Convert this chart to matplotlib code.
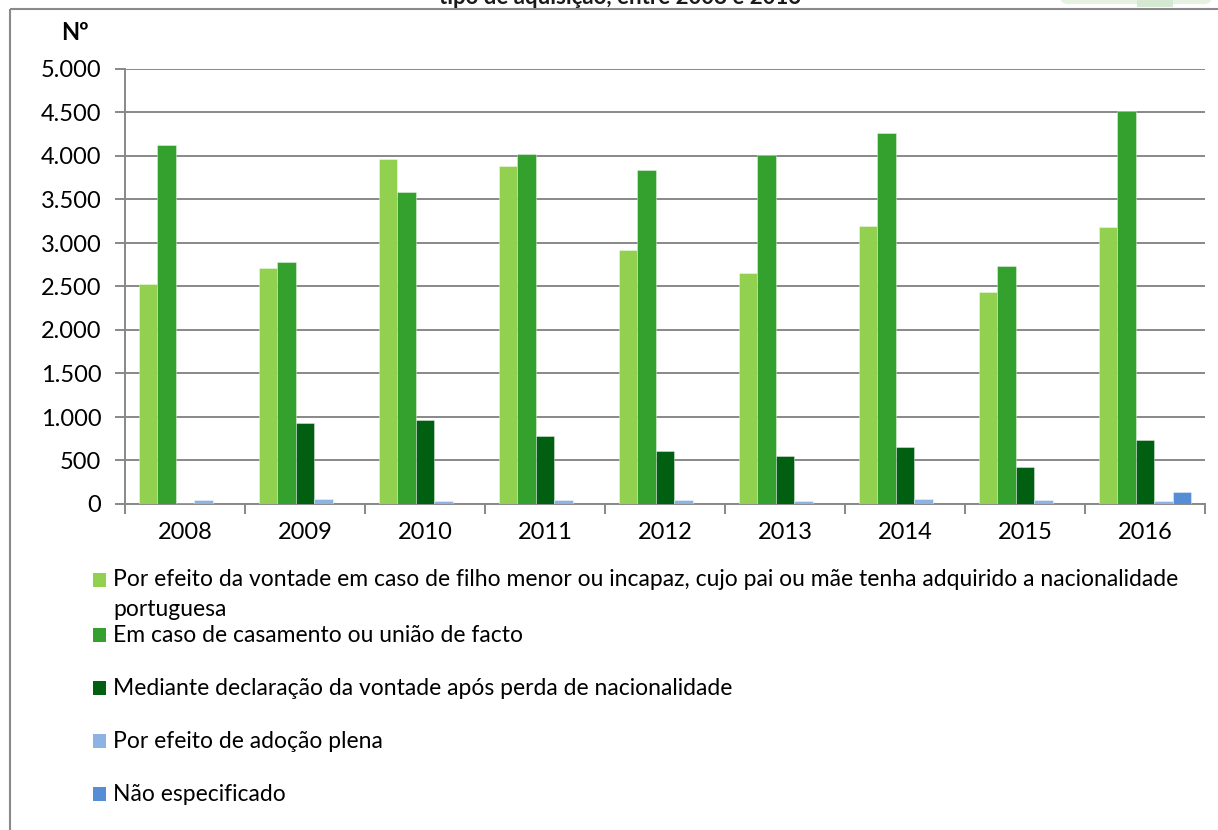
import matplotlib.pyplot as plt
import numpy as np
from matplotlib.patches import Rectangle, FancyBboxPatch

plt.rcParams['font.family'] = ['Lato', 'DejaVu Sans']

years = ["2008", "2009", "2010", "2011", "2012", "2013", "2014", "2015", "2016"]

vontade_filho = [2527, 2708, 3962, 3887, 2920, 2652, 3200, 2437, 3181]
casamento = [4123, 2785, 3585, 4025, 3837, 4013, 4262, 2740, 4519]
perda_nacionalidade = [8, 927, 969, 780, 610, 552, 652, 421, 741]
adocao_plena = [42, 54, 31, 42, 42, 39, 54, 42, 39]
nao_especificado = [0, 0, 0, 0, 0, 0, 0, 0, 135]

series = [vontade_filho, casamento, perda_nacionalidade, adocao_plena, nao_especificado]
labels = [
    "Por efeito da vontade em caso de filho menor ou incapaz, cujo pai ou mãe tenha adquirido a nacionalidade\nportuguesa",
    "Em caso de casamento ou união de facto",
    "Mediante declaração da vontade após perda de nacionalidade",
    "Por efeito de adoção plena",
    "Não especificado",
]
colors = ["#92d050", "#34a02d", "#005f10", "#8db3e2", "#558ed5"]

W, H = 1218, 830
fig = plt.figure(figsize=(W / 100, H / 100), dpi=100)

# plot area in pixel terms
left, right, top, bottom = 125, 1205, 69, 504
ax = fig.add_axes([left / W, 1 - bottom / H, (right - left) / W, (bottom - top) / H])

x = np.arange(len(years))
n = len(series)
bw = 1 / (n + 1.5)
for i, (vals, col) in enumerate(zip(series, colors)):
    ax.bar(x + (i - (n - 1) / 2) * bw, vals, width=bw, color=col,
           edgecolor=(1, 1, 1, 0.45), linewidth=0.6, zorder=3)

ax.set_xlim(-0.5, len(years) - 0.5)
ax.set_ylim(0, 5000)
ax.set_yticks(np.arange(0, 5001, 500))
ax.set_yticklabels([f"{v:,}".replace(",", ".") for v in range(0, 5001, 500)])
ax.set_xticks(x)
ax.set_xticklabels(years)
ax.set_xticks(np.arange(-0.5, len(years), 1), minor=True)

grid_col = "#888888"
ax.grid(axis="y", color=grid_col, linewidth=1.4, zorder=0)
for s in ["top", "right"]:
    ax.spines[s].set_visible(False)
for s in ["left", "bottom"]:
    ax.spines[s].set_color(grid_col)
    ax.spines[s].set_linewidth(1.4)
ax.tick_params(axis="y", length=7, width=1.4, color=grid_col, labelsize=17, pad=10)
ax.tick_params(axis="x", which="major", length=0, labelsize=17, pad=13)
ax.tick_params(axis="x", which="minor", length=7, width=1.4, color=grid_col)

# overlay in pixel coordinates for frame, title, unit label and legend
ov = fig.add_axes([0, 0, 1, 1], zorder=-1)
ov.set_xlim(0, W)
ov.set_ylim(H, 0)
ov.axis("off")

ov.add_patch(Rectangle((10, 9), 1240, 860, fill=False, ec="#8a8a8a", lw=1.5, clip_on=False))
ov.add_patch(FancyBboxPatch((1060, -20), 152, 24, boxstyle="round,pad=0,rounding_size=8",
                            fc="#e6f1e2", ec="none", clip_on=False))
ov.add_patch(Rectangle((1137, -5), 36, 12, fc="#d5e8d1", ec="none", clip_on=False))
ov.text(620, 4, "tipo de aquisição, entre 2008 e 2016", ha="center", va="baseline",
        fontsize=16, fontweight="bold", color="#1a1a1a")
ov.text(75, 33, "Nº", ha="center", va="center", fontsize=17, fontweight="bold")

leg_y = [580, 635, 688, 741, 794]
for yy, lab, col in zip(leg_y, labels, colors):
    ov.add_patch(Rectangle((93, yy - 7), 13, 14, fc=col, ec="none"))
    if "\n" in lab:
        ov.text(113, yy - 11, lab, ha="left", va="top", fontsize=16.5, linespacing=1.55)
    else:
        ov.text(113, yy, lab, ha="left", va="center", fontsize=16.5)

fig.savefig("out.png", dpi=100, facecolor="white")
